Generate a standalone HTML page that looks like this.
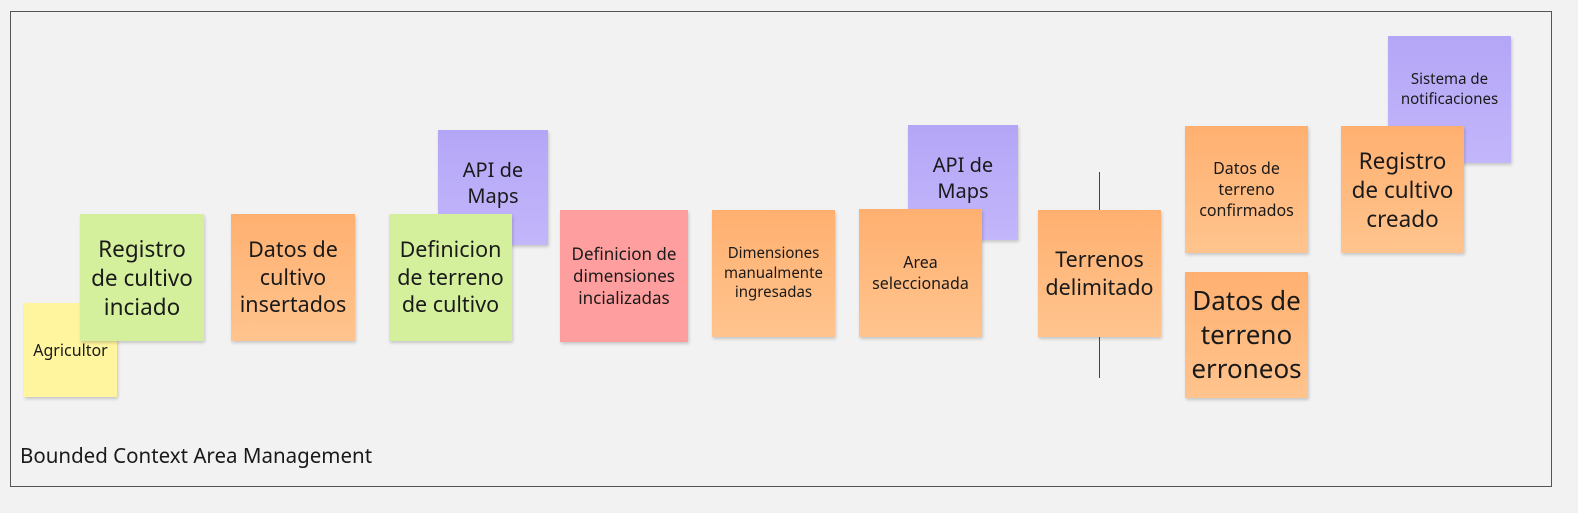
<!DOCTYPE html>
<html><head><meta charset="utf-8"><style>
body{margin:0;width:1578px;height:513px;background:#f2f2f2;position:relative;overflow:hidden;font-family:"Noto Sans","DejaVu Sans","Liberation Sans",sans-serif;color:#1a1a1a}
.frame{position:absolute;left:10px;top:11px;width:1540px;height:474px;border:1px solid #555;background:#f2f2f2}
.n{position:absolute;display:flex;align-items:center;justify-content:center;text-align:center;box-shadow:1px 2px 3px rgba(0,0,0,.18);line-height:1.3}
.y{background:#fff59f}
.g{background:#d5f09c}
.o{background:linear-gradient(#ffb070,#ffc48e)}
.p{background:linear-gradient(#b4a6f6,#c3b6fb)}
.r{background:#ff9e9e}
.lbl{position:absolute;left:20px;top:442px;font-size:20.5px}
.line{position:absolute;left:1099px;top:172px;width:1px;height:206px;background:#444}
</style></head><body>
<div class="frame"></div>
<div class="line"></div>
<div class="n y" style="left:24px;top:303px;width:93px;height:94px;font-size:16px">Agricultor</div>
<div class="n g" style="left:80px;top:214px;width:124px;height:127px;font-size:22.5px">Registro<br>de cultivo<br>inciado</div>
<div class="n o" style="left:231px;top:214px;width:124px;height:127px;font-size:21.5px">Datos de<br>cultivo<br>insertados</div>
<div class="n p" style="left:438px;top:130px;width:110px;height:115px;font-size:20px;align-items:flex-start;padding-top:0"><div style="margin-top:27px">API de<br>Maps</div></div>
<div class="n g" style="left:389px;top:214px;width:123px;height:127px;font-size:21.5px">Definicion<br>de terreno<br>de cultivo</div>
<div class="n r" style="left:560px;top:210px;width:128px;height:132px;font-size:17px">Definicion de<br>dimensiones<br>incializadas</div>
<div class="n o" style="left:712px;top:210px;width:123px;height:127px;font-size:15px">Dimensiones<br>manualmente<br>ingresadas</div>
<div class="n p" style="left:908px;top:125px;width:110px;height:115px;font-size:20px;align-items:flex-start"><div style="margin-top:27px">API de<br>Maps</div></div>
<div class="n o" style="left:859px;top:209px;width:123px;height:128px;font-size:16px">Area<br>seleccionada</div>
<div class="n o" style="left:1038px;top:210px;width:123px;height:127px;font-size:21.5px">Terrenos<br>delimitado</div>
<div class="n o" style="left:1185px;top:126px;width:123px;height:127px;font-size:16px">Datos de<br>terreno<br>confirmados</div>
<div class="n o" style="left:1185px;top:272px;width:123px;height:126px;font-size:26px">Datos de<br>terreno<br>erroneos</div>
<div class="n p" style="left:1388px;top:36px;width:123px;height:127px;font-size:15px;align-items:flex-start"><div style="margin-top:34px">Sistema de<br>notificaciones</div></div>
<div class="n o" style="left:1341px;top:126px;width:123px;height:127px;font-size:22.5px">Registro<br>de cultivo<br>creado</div>
<div class="lbl">Bounded Context Area Management</div>
</body></html>
